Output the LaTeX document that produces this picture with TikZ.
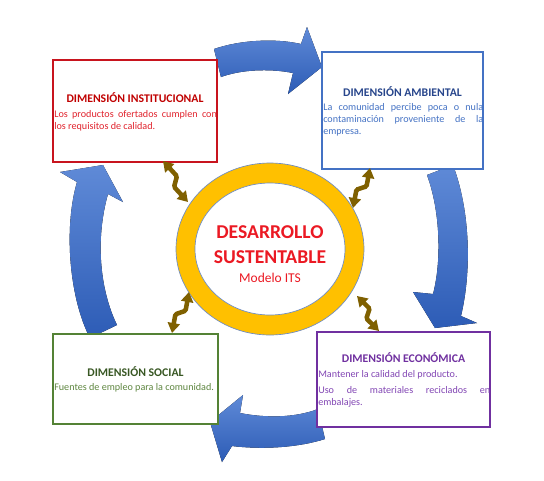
\documentclass[tikz,border=0pt]{standalone}
\usepackage{fontspec}
\setmainfont{Carlito}
\usetikzlibrary{arrows.meta,calc}
\definecolor{instc}{RGB}{200,20,30}
\definecolor{instt}{RGB}{192,0,0}
\definecolor{instb}{RGB}{225,35,45}
\definecolor{ambc}{RGB}{68,114,196}
\definecolor{ambt}{RGB}{40,70,140}
\definecolor{ambb}{RGB}{68,114,196}
\definecolor{ecoc}{RGB}{112,48,160}
\definecolor{ecot}{RGB}{112,48,160}
\definecolor{ecob}{RGB}{130,70,180}
\definecolor{socc}{RGB}{84,130,53}
\definecolor{soct}{RGB}{56,87,35}
\definecolor{socb}{RGB}{95,135,65}
\definecolor{ringc}{RGB}{255,192,0}
\definecolor{ringl}{RGB}{110,140,195}
\definecolor{bluel}{RGB}{95,138,215}
\definecolor{blued}{RGB}{45,92,182}
\definecolor{boltc}{RGB}{127,96,0}
\definecolor{centc}{RGB}{235,25,35}
\newcommand\nohyph{\hyphenpenalty=10000 \exhyphenpenalty=10000 \relax}
\tikzset{
  box/.style={rectangle, line width=1.1pt, fill=white, inner sep=0pt},
  ttl/.style={font={\fontsize{8.8}{10}\selectfont\bfseries}, inner sep=0pt, anchor=base},
  body/.style={font={\fontsize{7.6}{9}\selectfont}, execute at begin node=\nohyph,
    align=justify, inner sep=0pt, anchor=north west},
  bigarrow/.style={top color=bluel, bottom color=blued, draw=none},
  bolt/.style={draw=boltc, line width=3.4pt, rounded corners=1pt,
    {Triangle[length=7.5pt,width=9pt]}-{Triangle[length=7.5pt,width=9pt]}},
  bigtxt/.style={font={\fontsize{14.7}{16}\selectfont\bfseries}, text=centc, inner sep=0pt, anchor=base},
}
\newcommand\zzbolt[2]{\draw[bolt] (#1) -- ($(#1)!0.42!(#2)!3pt!90:(#2)$) -- ($(#1)!0.58!(#2)!3pt!-90:(#2)$) -- (#2);}
\begin{document}
\begin{tikzpicture}[x=0.75pt,y=-0.75pt]
\useasboundingbox[fill=white] (0,0) rectangle (544,480);

% big curved arrows
\fill[bigarrow] (214,49) .. controls (240,40) and (275,38) .. (301,44) -- (307,27) -- (322,67) -- (288,94) -- (293,73) .. controls (268,68) and (240,70) .. (221,77) -- cycle;
\fill[bigarrow] (427,175) .. controls (440,210) and (442,260) .. (433,294) -- (413,292) -- (435,328) -- (477,323) -- (461,316) .. controls (472,270) and (470,210) .. (453,165) -- cycle;
\fill[bigarrow] (318,409) .. controls (295,418) and (265,418) .. (240,413) -- (243,395) -- (210,422) -- (222,462) -- (232,446) .. controls (265,450) and (300,447) .. (325,439) -- cycle;
\fill[bigarrow] (90,338) .. controls (70,300) and (63,230) .. (77,182) -- (60,172) -- (103,165) -- (123,202) -- (108,194) .. controls (95,240) and (100,290) .. (117,325) -- cycle;

% boxes
\node[box, draw=instc, minimum width=123pt, minimum height=76.5pt] (inst) at (135,111) {};
\node[box, draw=ambc, minimum width=120.75pt, minimum height=87.75pt] (amb) at (402.5,110.5) {};
\node[box, draw=ecoc, minimum width=129.75pt, minimum height=71.25pt] (eco) at (403.5,379.5) {};
\node[box, draw=socc, minimum width=123.75pt, minimum height=67.5pt] (soc) at (135.5,379) {};

% box texts
\node[ttl, text=instt] (instT) at (135,102) {DIMENSIÓN INSTITUCIONAL};
\node[body, text=instb, text width=122pt] (instB) at (54,110) {Los productos ofertados cumplen con\linebreak los requisitos de calidad.};

\node[ttl, text=ambt] (ambT) at (402.5,96) {DIMENSIÓN AMBIENTAL};
\node[body, text=ambb, text width=120pt] (ambB) at (323,103) {La comunidad percibe poca o nula\linebreak contaminación proveniente de la\linebreak empresa.};

\node[ttl, text=ecot] (ecoT) at (403.5,362) {DIMENSIÓN ECONÓMICA};
\node[body, text=ecob, text width=129pt] (ecoB) at (318,370) {Mantener la calidad del producto.\\[3pt]Uso de materiales reciclados en\linebreak embalajes.};

\node[ttl, text=soct] (socT) at (135.5,376) {DIMENSIÓN SOCIAL};
\node[body, text=socb, text width=123pt] (socB) at (54,383) {Fuentes de empleo para la comunidad.};

% ring
\fill[ringc, draw=ringl, line width=0.5pt] (270,249) ellipse [x radius=70.5pt, y radius=64.5pt];
\fill[white, draw=ringl, line width=0.5pt] (270,249) ellipse [x radius=56.25pt, y radius=49.5pt];
\coordinate (ring) at (270,249);
\node[bigtxt] (t1) at (270,238.5) {DESARROLLO};
\node[bigtxt] (t2) at (270,263.5) {SUSTENTABLE};
\node[font={\fontsize{10.1}{12}\selectfont}, text=centc, inner sep=0pt, anchor=base] (t3) at (270,282) {Modelo ITS};

% bolts
\coordinate (a1) at (163,161); \coordinate (b1) at (188,202);
\coordinate (a2) at (370,168); \coordinate (b2) at (353,208);
\coordinate (a3) at (189,292); \coordinate (b3) at (172,333);
\coordinate (a4) at (357,296); \coordinate (b4) at (379,331);
\zzbolt{a1}{b1}
\zzbolt{a2}{b2}
\zzbolt{a3}{b3}
\zzbolt{a4}{b4}
\end{tikzpicture}
\end{document}
